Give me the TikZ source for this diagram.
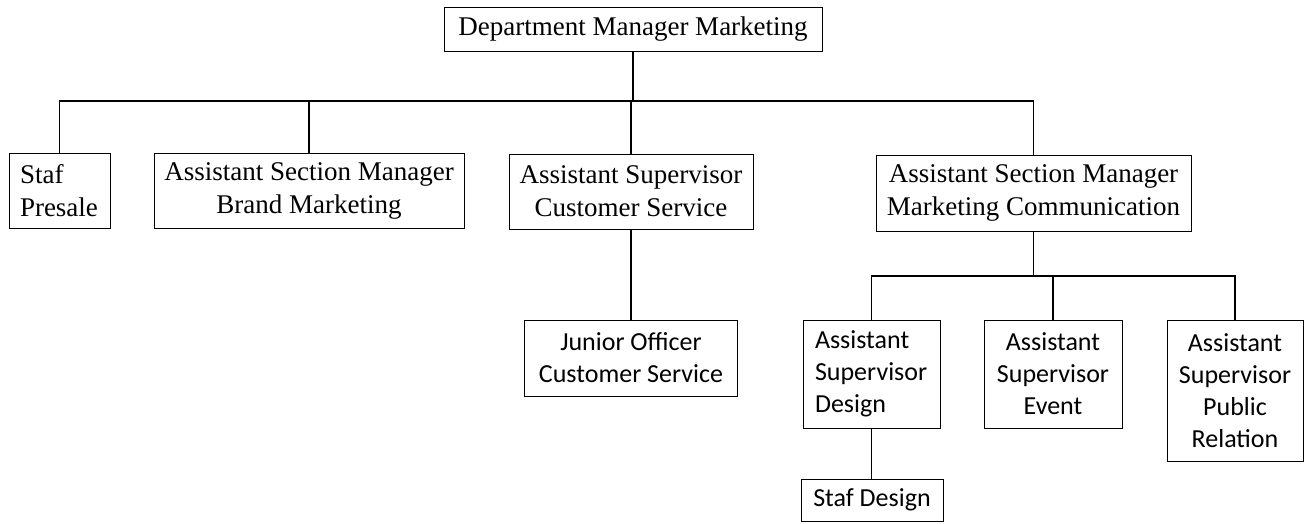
\documentclass[tikz,border=0pt]{standalone}
\usepackage{fontspec}
\setmainfont{Liberation Serif}
\newfontfamily\calfont{Carlito}
\begin{document}
\begin{tikzpicture}[x=1pt,y=-1pt,
  box/.style={draw=black,line width=1pt,inner sep=0pt,align=center},
  serifbox/.style={box,font=\fontsize{27}{33}\selectfont},
  sansbox/.style={box,font=\calfont\fontsize{26}{32}\selectfont},
  link/.style={draw=black,line width=1.7pt}]
\useasboundingbox (0,0) rectangle (1316,523);

% upper levels
\node[serifbox,minimum width=378pt,minimum height=44pt] (top) at (633,29) {Department Manager Marketing};
\node[serifbox,minimum width=101pt,minimum height=75pt,align=left,text width=79pt] (presale) at (59.5,190.5) {Staf\\Presale};
\node[serifbox,minimum width=310pt,minimum height=75pt] (brand) at (309,190.5) {Assistant Section Manager\\Brand Marketing};
\node[serifbox,minimum width=244pt,minimum height=75pt] (cs) at (631,191.5) {Assistant Supervisor\\Customer Service};
\node[serifbox,minimum width=315pt,minimum height=76pt] (mc) at (1033.5,193) {Assistant Section Manager\\Marketing Communication};

% lower levels
\node[sansbox,minimum width=213pt,minimum height=76pt] (jr) at (631,358) {Junior Officer\\Customer Service};
\node[sansbox,minimum width=137pt,minimum height=108pt,align=left,text width=113pt] (design) at (871.5,374) {Assistant\\Supervisor\\Design};
\node[sansbox,minimum width=138pt,minimum height=108pt] (event) at (1053,374) {Assistant\\Supervisor\\Event};
\node[sansbox,minimum width=136pt,minimum height=141pt] (pr) at (1235,390.5) {Assistant\\Supervisor\\Public\\Relation};
\node[sansbox,minimum width=142pt,minimum height=42pt] (sd) at (872,500) {Staf Design};

% bus lines
\coordinate (bus) at (0,101);
\coordinate (sub) at (0,276);

\draw[link] (top.south) -- (top.south |- bus);
\draw[link] (presale.north) -- (presale.north |- bus) -- (mc.north |- bus) -- (mc.north);
\draw[link] (brand.north) -- (brand.north |- bus);
\draw[link] (cs.north) -- (cs.north |- bus);
\draw[link] (cs.south) -- (jr.north);

\draw[link] (mc.south) -- (mc.south |- sub);
\draw[link] (design.north) -- (design.north |- sub) -- (pr.north |- sub) -- (pr.north);
\draw[link] (event.north) -- (event.north |- sub);
\draw[link] (design.south) -- (design.south |- sd.north);
\end{tikzpicture}
\end{document}
